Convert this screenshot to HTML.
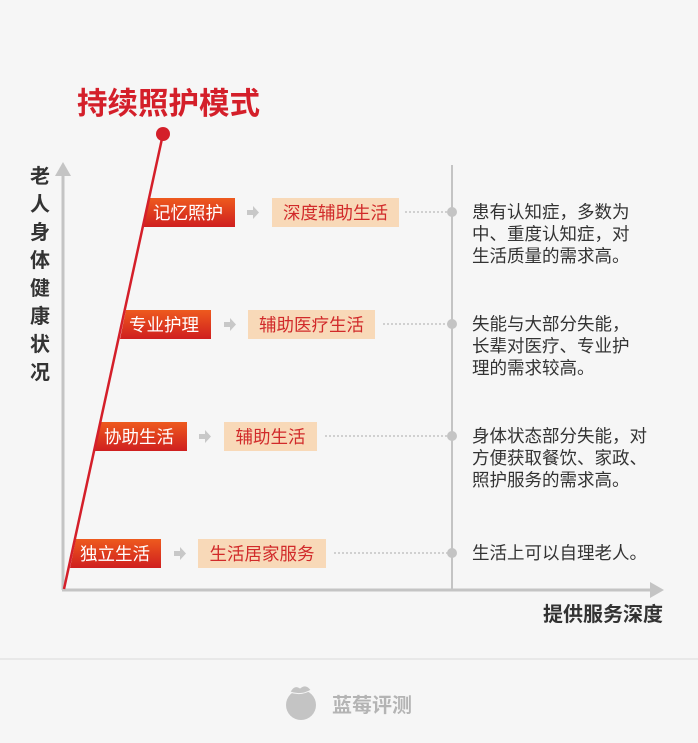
<!DOCTYPE html>
<html><head><meta charset="utf-8"><style>
html,body{margin:0;padding:0;background:#f6f6f6;}
svg{display:block;}
text{font-family:"Liberation Sans","Noto Sans CJK SC",sans-serif;}
</style></head><body>
<svg width="698" height="743" viewBox="0 0 698 743" xmlns="http://www.w3.org/2000/svg">
<defs>
<linearGradient id="rg" x1="0" y1="0" x2="0" y2="1">
<stop offset="0" stop-color="#ee5a1e"/><stop offset="1" stop-color="#cf1f1f"/>
</linearGradient>
</defs>
<rect width="698" height="743" fill="#f6f6f6"/>
<line x1="63" y1="172" x2="63" y2="590" stroke="#c4c4c4" stroke-width="3"/>
<polygon points="63,162 55,176 71,176" fill="#c4c4c4"/>
<line x1="62" y1="590" x2="652" y2="590" stroke="#c4c4c4" stroke-width="3"/>
<polygon points="664,590 650,582 650,598" fill="#c4c4c4"/>
<line x1="452" y1="165" x2="452" y2="590" stroke="#c4c4c4" stroke-width="2"/>
<g font-size="20" font-weight="bold" fill="#333" text-anchor="middle">
<text x="40" y="183">老</text><text x="40" y="211">人</text><text x="40" y="239">身</text><text x="40" y="267">体</text>
<text x="40" y="295">健</text><text x="40" y="323">康</text><text x="40" y="351">状</text><text x="40" y="379">况</text>
</g>
<text x="663" y="621" font-size="20" font-weight="bold" fill="#333" text-anchor="end">提供服务深度</text>
<text x="77" y="114" font-size="30.5" font-weight="bold" fill="#d41f2a">持续照护模式</text>
<polygon points="150,198 235,198 235,227 143,227" fill="url(#rg)"/>
<polygon points="126,310 211,310 211,339 120,339" fill="url(#rg)"/>
<polygon points="101,422 187,422 187,451 95,451" fill="url(#rg)"/>
<polygon points="76,539 161,539 161,568 70,568" fill="url(#rg)"/>
<g font-size="17.5" fill="#fff">
<text x="153" y="219">记忆照护</text>
<text x="129" y="331">专业护理</text>
<text x="104" y="443">协助生活</text>
<text x="80" y="560">独立生活</text>
</g>
<g fill="#c8c8c8">
<polygon points="247,210 253,210 253,206 259,212.5 253,219 253,215 247,215"/>
<polygon points="224,322 230,322 230,318 236,324.5 230,331 230,327 224,327"/>
<polygon points="199,434 205,434 205,430 211,436.5 205,443 205,439 199,439"/>
<polygon points="174,551 180,551 180,547 186,553.5 180,560 180,556 174,556"/>
</g>
<g fill="#f8d9b8">
<rect x="272" y="198" width="127" height="29"/>
<rect x="248" y="310" width="127" height="29"/>
<rect x="224" y="422" width="93" height="29"/>
<rect x="198" y="539" width="128" height="29"/>
</g>
<g font-size="17.5" fill="#d12a2a" text-anchor="middle">
<text x="335.5" y="219">深度辅助生活</text>
<text x="311.5" y="331">辅助医疗生活</text>
<text x="270.5" y="443">辅助生活</text>
<text x="262" y="560">生活居家服务</text>
</g>
<g stroke="#c4c4c4" stroke-width="1.5" stroke-dasharray="2,2">
<line x1="405" y1="212" x2="450" y2="212"/>
<line x1="383" y1="324" x2="450" y2="324"/>
<line x1="325" y1="436" x2="450" y2="436"/>
<line x1="334" y1="553" x2="450" y2="553"/>
</g>
<g fill="#c4c4c4">
<circle cx="452" cy="212" r="5"/><circle cx="452" cy="324" r="5"/>
<circle cx="452" cy="436" r="5"/><circle cx="452" cy="553" r="5"/>
</g>
<g font-size="17.5" fill="#333">
<text x="472" y="218">患有认知症，多数为</text>
<text x="472" y="240">中、重度认知症，对</text>
<text x="472" y="262">生活质量的需求高。</text>
<text x="472" y="330">失能与大部分失能，</text>
<text x="472" y="352">长辈对医疗、专业护</text>
<text x="472" y="374">理的需求较高。</text>
<text x="472" y="442">身体状态部分失能，对</text>
<text x="472" y="464">方便获取餐饮、家政、</text>
<text x="472" y="486">照护服务的需求高。</text>
<text x="472" y="559">生活上可以自理老人。</text>
</g>
<line x1="64" y1="589" x2="163" y2="134" stroke="#d41f2a" stroke-width="2.5"/>
<circle cx="163" cy="134" r="7" fill="#d41f2a"/>
<line x1="0" y1="659" x2="698" y2="659" stroke="#e4e4e4" stroke-width="1.5"/>
<ellipse cx="301" cy="705" rx="15" ry="15" fill="#c4c4c4"/>
<path d="M290,692 q4,-8 10,-4 q6,-5 11,2 q-10,6 -21,2z" fill="#c4c4c4" stroke="#f6f6f6" stroke-width="1"/>
<text x="332" y="712" font-size="20" font-weight="bold" fill="#b4b4b4">蓝莓评测</text>
</svg>
</body></html>
